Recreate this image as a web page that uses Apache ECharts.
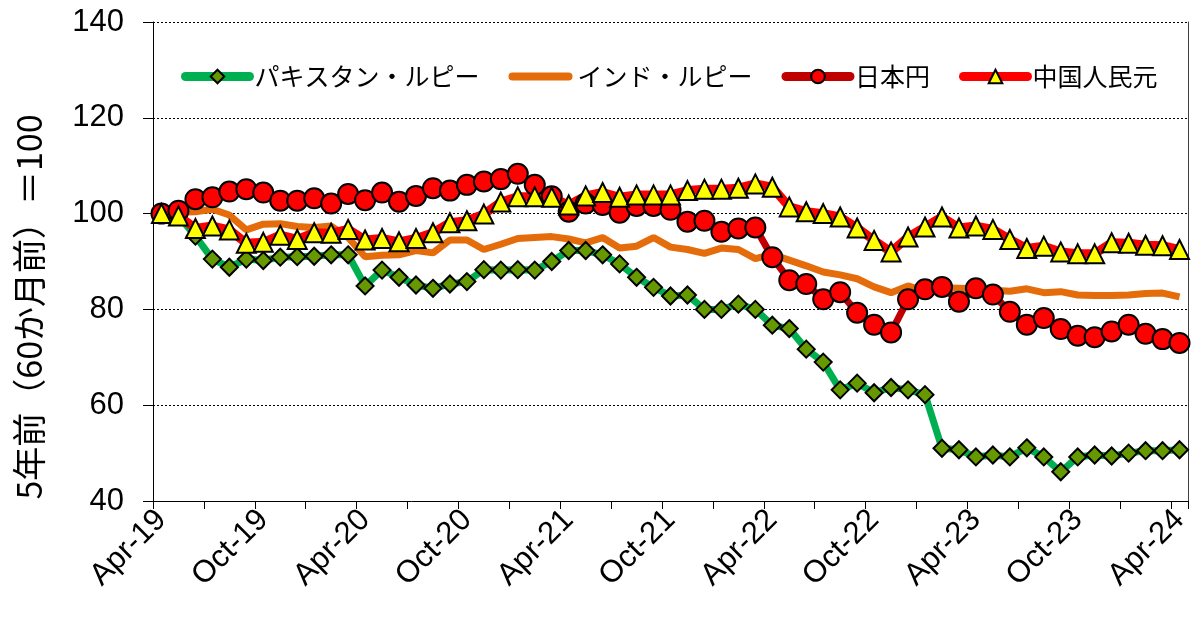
<!DOCTYPE html>
<html>
<head>
<meta charset="utf-8">
<script src="https://cdn.jsdelivr.net/npm/echarts@6/dist/echarts.min.js"></script>
<style>
  html, body { margin:0; padding:0; background:#fff; }
  #chart { width:1193px; height:629px; }
</style>
</head>
<body>
<div id="chart"></div>
<script>
// 月の名前（2019年4月〜2024年4月）
var monthNames = ['Jan','Feb','Mar','Apr','May','Jun','Jul','Aug','Sep','Oct','Nov','Dec'];
var categories = [];
for (var k = 0; k < 61; k++) {
    var m = (3 + k) % 12;
    var y = 19 + Math.floor((3 + k) / 12);
    categories.push(monthNames[m] + '-' + y);
}

var seriesNames = ['パキスタン・ルピー', 'インド・ルピー', '日本円', '中国人民元'];
var yTitle = '5年前（60か月前）＝100';

var pakistan = [100,99.5,95.3,90.5,88.8,90.5,90.2,90.9,91.0,91.1,91.4,91.4,84.9,88.2,86.7,85.1,84.4,85.3,85.8,88.3,
    88.2,88.3,88.2,90.0,92.3,92.3,91.4,89.5,86.7,84.6,82.8,83.0,80.0,80.0,81.1,80.0,76.7,76.0,71.7,69.0,
    63.2,64.6,62.6,63.7,63.2,62.2,51.0,50.7,49.2,49.6,49.2,51.1,49.2,46.1,49.2,49.6,49.4,50.0,50.5,50.5,50.7];

var india = [100,100.3,100.4,100.9,99.7,96.6,97.8,97.9,97.3,97.1,97.4,95.0,91.0,91.3,91.4,92.3,91.8,94.5,94.5,92.5,
    93.6,94.8,95.0,95.2,94.7,93.9,95.0,92.8,93.2,95.0,93.0,92.5,91.7,92.8,92.5,90.6,91.5,90.3,89.1,87.8,
    87.2,86.4,84.7,83.5,84.9,83.7,84.5,84.4,84.3,84.0,83.8,84.3,83.5,83.7,83.0,82.9,82.9,83.0,83.3,83.4,82.6];

var yen = [100,100.6,103.0,103.4,104.6,105.1,104.4,102.7,102.7,103.2,102.1,104.1,102.8,104.4,102.5,103.7,105.3,104.8,106.0,106.7,
    107.2,108.3,106.0,103.6,100.4,102.1,101.8,100.2,101.6,101.6,100.8,98.3,98.5,96.2,96.9,97.1,90.9,86.1,85.3,82.1,
    83.6,79.3,76.8,75.2,82.1,84.2,84.7,81.6,84.4,83.1,79.5,76.8,78.2,75.9,74.5,74.2,75.4,76.8,74.9,73.8,73.0];

var yuan = [100,99.5,96.9,97.4,96.6,93.8,94.0,95.5,94.6,96.0,95.9,96.7,94.5,94.8,94.1,94.8,96.0,98.1,98.5,99.9,
    102.4,103.5,103.5,103.4,101.8,103.7,104.4,103.4,103.9,103.9,103.9,104.8,105.1,105.1,105.3,106.2,105.5,101.4,100.4,100.0,
    99.3,97.0,94.4,92.0,95.1,97.2,99.3,97.0,97.4,96.7,94.6,92.7,93.2,92.0,91.6,91.6,93.9,93.8,93.4,93.3,92.5];

var fontJP = '"Noto Sans CJK JP", "Noto Sans", sans-serif';
var fontNum = '"Liberation Sans", Arial, sans-serif';

var myChart = echarts.init(document.getElementById('chart'));
var option = {
    backgroundColor: '#fff',
    animation: false,
    grid: {
        left: 153,
        right: 5,
        top: 22,
        bottom: 128
    },
    // 縦軸タイトル（グラフ全体の高さの中央付近）
    graphic: [{
        type: 'text',
        x: 29,
        y: 307,
        rotation: Math.PI / 2,
        style: {
            text: yTitle,
            font: '34px "Noto Sans CJK JP", sans-serif',
            fill: '#000',
            align: 'center',
            verticalAlign: 'middle'
        }
    }],
    legend: {
        left: 176,
        top: 59,
        itemWidth: 64,
        itemHeight: 17,
        itemGap: 29,
        lineStyle: { width: 9, cap: 'round' },
        textStyle: { fontSize: 25, color: '#000', fontFamily: fontJP },
        data: [
            seriesNames[0],
            { name: seriesNames[1], icon: 'path://M4,0 L60,0 A4,4 0 0 1 60,8 L4,8 A4,4 0 0 1 4,0 Z' },
            seriesNames[2],
            seriesNames[3]
        ]
    },
    xAxis: {
        type: 'category',
        boundaryGap: true,
        data: categories,
        axisLine: { lineStyle: { color: '#000', width: 1 } },
        axisTick: { show: true, interval: 2, length: 8, lineStyle: { color: '#000' } },
        axisLabel: {
            interval: 5,
            rotate: 45,
            margin: 14,
            fontSize: 31,
            color: '#000',
            fontFamily: fontNum
        },
        splitLine: { show: false }
    },
    yAxis: [
        {
            type: 'value',
            min: 40,
            max: 140,
            interval: 20,
            axisLine: { show: true, lineStyle: { color: '#000', width: 1 } },
            axisTick: { show: true, length: 10, lineStyle: { color: '#000' } },
            axisLabel: { fontSize: 31, color: '#000', margin: 29, fontFamily: fontNum },
            splitLine: { show: true, lineStyle: { color: '#000', width: 1, type: [2, 2] } }
        },
        {
            // 右側の枠線
            type: 'value',
            position: 'right',
            min: 40,
            max: 140,
            interval: 20,
            axisLine: { show: true, lineStyle: { color: '#404040', width: 1 } },
            axisTick: { show: false },
            axisLabel: { show: false },
            splitLine: { show: false }
        }
    ],
    series: [
        {
            name: seriesNames[0],
            type: 'line',
            data: pakistan,
            symbol: 'diamond',
            symbolSize: 17,
            showAllSymbol: true,
            lineStyle: { color: '#00B050', width: 7 },
            itemStyle: { color: '#669900', borderColor: '#000', borderWidth: 2 }
        },
        {
            name: seriesNames[1],
            type: 'line',
            data: india,
            symbol: 'none',
            lineStyle: { color: '#E46C0A', width: 7 },
            itemStyle: { color: '#E46C0A' }
        },
        {
            name: seriesNames[2],
            type: 'line',
            data: yen,
            symbol: 'circle',
            symbolSize: 20,
            showAllSymbol: true,
            lineStyle: { color: '#C00000', width: 7 },
            itemStyle: { color: '#FF0000', borderColor: '#000', borderWidth: 2 }
        },
        {
            name: seriesNames[3],
            type: 'line',
            data: yuan,
            symbol: 'triangle',
            symbolSize: 19,
            showAllSymbol: true,
            lineStyle: { color: '#FF0000', width: 9 },
            itemStyle: { color: '#FFFF00', borderColor: '#000', borderWidth: 2 }
        }
    ]
};
myChart.setOption(option);
</script>
</body>
</html>
